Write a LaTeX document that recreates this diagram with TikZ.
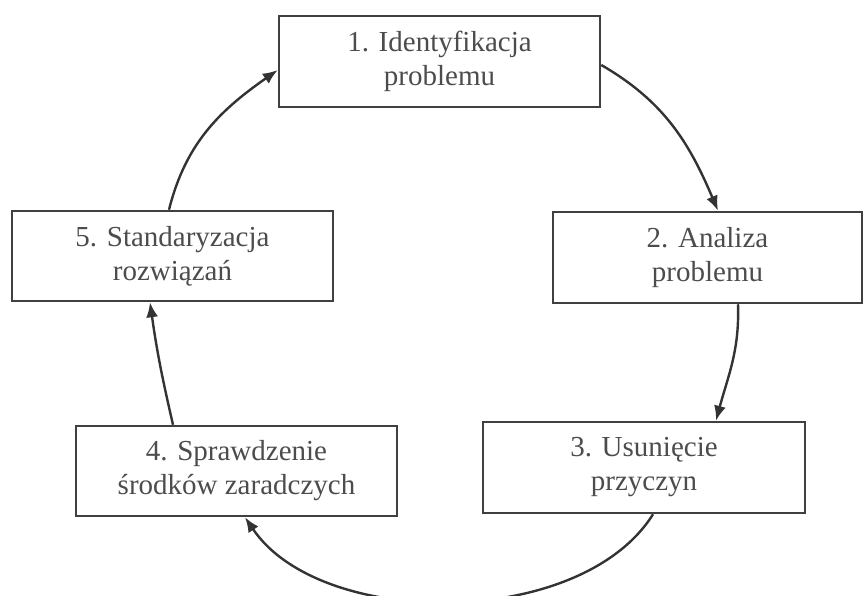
\documentclass[tikz,border=0pt]{standalone}
\usepackage{fontspec}
\setmainfont{Liberation Serif}
\usetikzlibrary{positioning,arrows.meta,calc}

\begin{document}
\begin{tikzpicture}[
    x=1pt, y=1pt,
    font=\fontsize{29}{34}\selectfont,
    stagebox/.style={draw=black!75, line width=2.5pt, align=center, text=black!70,
      minimum height=91pt, inner sep=0pt},
    flow/.style={-{Latex[length=15pt, width=12pt]}, black!80, line width=2.4pt},
  ]
  \useasboundingbox (0,0) rectangle (864,595);
  % the five stages of the cycle
  \node[stagebox, minimum width=321pt] (ident) at (439.5,533.5) {1. Identyfikacja\\problemu};
  \node[stagebox, minimum width=309pt] (anal)  at (707.5,337.5) {2. Analiza\\problemu};
  \node[stagebox, minimum width=322pt] (usun)  at (644,127.5)   {3. Usunięcie\\przyczyn};
  \node[stagebox, minimum width=321pt, minimum height=90pt] (spraw) at (236.5,124) {4. Sprawdzenie\\środków zaradczych};
  \node[stagebox, minimum width=321pt, minimum height=90pt] (stand) at (172.5,339) {5. Standaryzacja\\rozwiązań};

  % arrows round the circle
  \draw[flow] ([yshift=-3.5pt]ident.east) to[out=-30, in=113] ([xshift=10.5pt]anal.north);
  \draw[flow] ([xshift=30.5pt]anal.south) to[out=-88, in=75] ([xshift=72pt]usun.north);
  \draw[flow] ([xshift=9pt]usun.south) to[out=-122, in=-56, looseness=0.85] ([xshift=8.5pt]spraw.south);
  \draw[flow] ([xshift=-63.5pt]spraw.north) to[out=103, in=-82] ([xshift=-22.5pt]stand.south);
  \draw[flow] ([xshift=-3.5pt]stand.north) to[out=76, in=215] ([yshift=-8.5pt]ident.west);
\end{tikzpicture}
\end{document}
